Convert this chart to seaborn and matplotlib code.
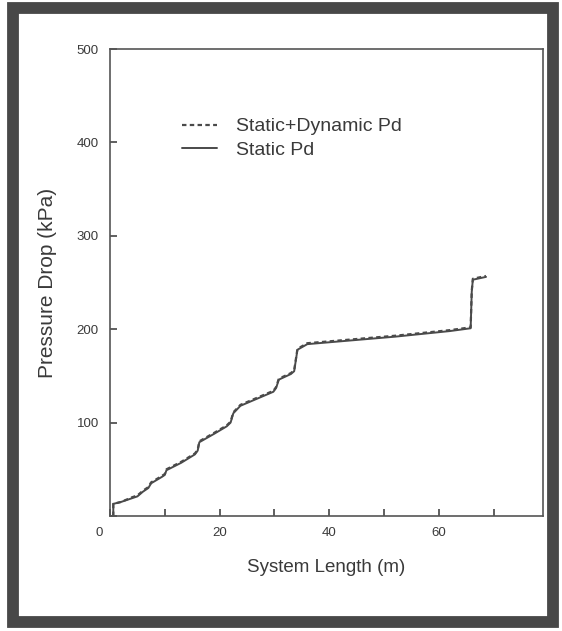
import matplotlib
matplotlib.use("Agg")
import matplotlib.pyplot as plt
import matplotlib.patches as mpatches
from matplotlib.transforms import ScaledTranslation
import seaborn as sns

# ---- data ----
length = [0.6, 0.6, 2, 4, 5, 6, 7, 7.5, 9.5, 10, 10.3, 13, 15.5, 16, 16.3, 19, 21.3, 22,
          22.5, 23.8, 27, 29.8, 30.3, 30.8, 33, 33.6, 34.2, 36, 40, 46, 52, 57, 62,
          65.8, 66, 66.2, 68.6]
static_pd = [0, 13, 15, 19, 21, 26, 30, 35, 42, 44, 49, 57, 66, 70, 79, 88, 96, 100,
             110, 118, 126, 133, 137, 146, 152, 155, 178, 184, 186, 189, 192, 195, 198,
             201, 240, 253, 256]
dynamic_pd = [0, 13, 15, 20, 22, 27, 31, 36, 43, 45, 50, 58, 67, 71, 80, 89, 97, 101,
              111, 119, 127, 134, 138, 147, 153, 156, 179, 185, 187, 190, 193, 196, 199,
              202, 241, 254, 257]
series_names = ["Static+Dynamic Pd", "Static Pd"]
x_ticks = [0, 10, 20, 30, 40, 50, 60, 70]
x_labels = ["0", "", "20", "", "40", "", "60", ""]
y_ticks = [0, 100, 200, 300, 400, 500]
y_labels = ["", "100", "200", "300", "400", "500"]

sns.set_style("white")
plt.rcParams["font.family"] = ["Liberation Sans", "DejaVu Sans"]

fig = plt.figure(figsize=(5.62, 6.31), dpi=100)
fig.patch.set_facecolor("white")

# dark scanned frame
frame = mpatches.Rectangle((13 / 562, 9 / 631), 540 / 562, 614 / 631,
                           transform=fig.transFigure, fill=False,
                           edgecolor="#484848", linewidth=8.5)
fig.patches.append(frame)

ax = fig.add_axes([110 / 562, 115 / 631, 433 / 562, 467 / 631])
line_col = "#4a4a4a"

sns.lineplot(x=length, y=dynamic_pd, estimator=None, sort=False, ax=ax,
             color=line_col, linewidth=1.6, linestyle=(0, (2, 1.5)),
             label=series_names[0])
sns.lineplot(x=length, y=static_pd, estimator=None, sort=False, ax=ax,
             color=line_col, linewidth=1.4, linestyle="-",
             label=series_names[1])

ax.set_xlim(0, 79)
ax.set_ylim(0, 500)
ax.set_xticks(x_ticks)
ax.set_xticklabels(x_labels)
ax.set_yticks(y_ticks)
ax.set_yticklabels(y_labels)
ax.tick_params(bottom=True, left=True, direction="in", length=5, width=1.2,
               color="#444444", labelsize=9.5, labelcolor="#3a3a3a", pad=8)
for s in ax.spines.values():
    s.set_visible(True)
    s.set_color("#555555")
    s.set_linewidth(1.2)

# shift the "0" label slightly left as in the reference
lbl0 = ax.get_xticklabels()[0]
lbl0.set_transform(lbl0.get_transform() + ScaledTranslation(-11 / 100, 0, fig.dpi_scale_trans))

ax.set_xlabel("System Length (m)", fontsize=13.5, color="#3a3a3a", labelpad=14)
ax.set_ylabel("Pressure Drop (kPa)", fontsize=15, color="#3a3a3a", labelpad=14)

leg = ax.legend(loc="upper left", bbox_to_anchor=(0.125, 0.89), frameon=False,
                fontsize=14, handlelength=1.8, handletextpad=1.0, labelspacing=0.3,
                labelcolor="#3a3a3a")

fig.savefig("out.png", dpi=100, facecolor="white")
